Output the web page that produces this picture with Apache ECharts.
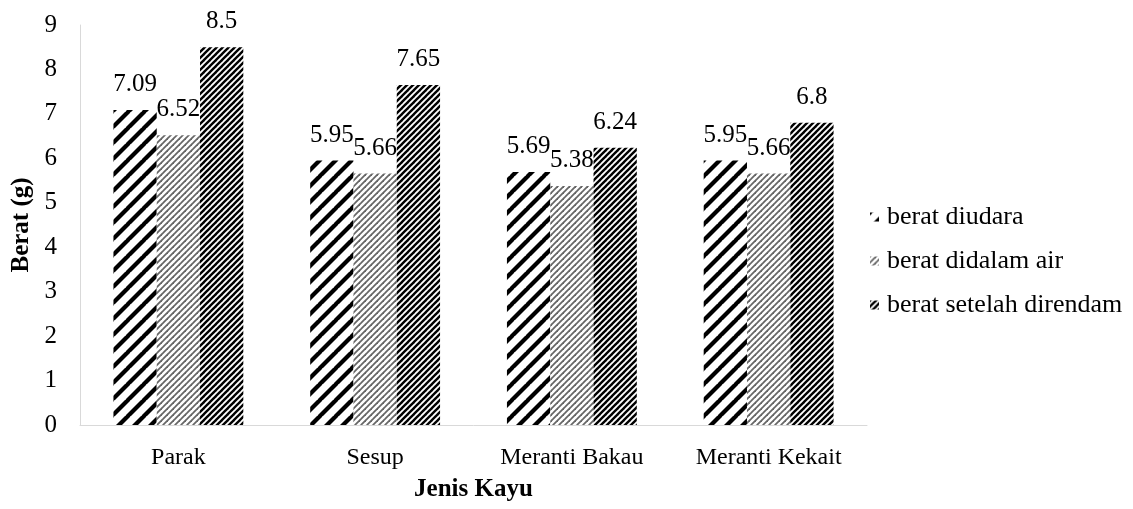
<!DOCTYPE html>
<html>
<head>
<meta charset="utf-8">
<script src="https://cdn.jsdelivr.net/npm/echarts@6/dist/echarts.min.js"></script>
<style>
  html, body { margin: 0; padding: 0; background: #fff; }
  #chart { width: 1133px; height: 509px; }
</style>
</head>
<body>
<div id="chart"></div>
<script>
const categories = ['Parak', 'Sesup', 'Meranti Bakau', 'Meranti Kekait'];
const seriesNames = ['berat diudara', 'berat didalam air', 'berat setelah direndam'];
const beratDiudara = [7.09, 5.95, 5.69, 5.95];
const beratDidalamAir = [6.52, 5.66, 5.38, 5.66];
const beratSetelahDirendam = [8.5, 7.65, 6.24, 6.8];
const yTicks = [0, 1, 2, 3, 4, 5, 6, 7, 8, 9];

const FONT = "'Liberation Serif', 'Times New Roman', serif";
const FS = 25;

// Diagonal "/" stripe tile: period = horizontal repeat, width = stroke width
function stripe(period, width, color) {
  const c = document.createElement('canvas');
  c.width = period; c.height = period;
  const g = c.getContext('2d');
  g.fillStyle = '#fff';
  g.fillRect(0, 0, period, period);
  g.strokeStyle = color;
  g.lineWidth = width;
  for (let k = -1; k <= 1; k++) {
    g.beginPath();
    g.moveTo(k * period - 1, period + 1);
    g.lineTo(k * period + period + 1, -1);
    g.stroke();
  }
  return { image: c, repeat: 'repeat' };
}

const patterns = [
  stripe(16, 4.2, '#000'),
  stripe(6, 1.8, '#666'),
  stripe(6, 2.4, '#000')
];

const values = [beratDiudara, beratDidalamAir, beratSetelahDirendam];

const chart = echarts.init(document.getElementById('chart'), null, { renderer: 'canvas' });
chart.setOption({
  animation: false,
  backgroundColor: '#fff',
  textStyle: { fontFamily: FONT },
  grid: { left: 80, right: 266, top: 25, bottom: 84, containLabel: false, outerBoundsMode: 'none' },
  legend: {
    orient: 'vertical',
    left: 865,
    top: 199,
    itemWidth: 9,
    itemHeight: 9,
    itemGap: 18,
    icon: 'rect',
    textStyle: { fontFamily: FONT, fontSize: 26, color: '#000', padding: [0, 0, 0, 3] },
    data: seriesNames
  },
  xAxis: {
    type: 'category',
    data: categories,
    name: 'Jenis Kayu',
    nameLocation: 'middle',
    nameGap: 52,
    nameTextStyle: { fontFamily: FONT, fontSize: FS, fontWeight: 'bold', color: '#000' },
    axisLine: { show: true, lineStyle: { color: '#d9d9d9', width: 1 } },
    axisTick: { show: false },
    axisLabel: { interval: 0, fontFamily: FONT, fontSize: 24, color: '#000', margin: 21 },
    splitLine: { show: false }
  },
  yAxis: {
    type: 'value',
    min: yTicks[0],
    max: yTicks[yTicks.length - 1],
    interval: 1,
    name: 'Berat (g)',
    nameLocation: 'middle',
    nameGap: 38,
    nameRotate: 90,
    nameTextStyle: { fontFamily: FONT, fontSize: FS, fontWeight: 'bold', color: '#000' },
    axisLine: { show: true, lineStyle: { color: '#d9d9d9', width: 1 } },
    axisTick: { show: false },
    axisLabel: { fontFamily: FONT, fontSize: FS, color: '#000', margin: 23 },
    splitLine: { show: false }
  },
  series: seriesNames.map((name, i) => ({
    name: name,
    type: 'bar',
    data: values[i],
    barGap: '0%',
    barCategoryGap: '34%',
    itemStyle: { color: patterns[i] },
    label: {
      show: true,
      position: 'top',
      distance: 13,
      fontFamily: FONT,
      fontSize: FS,
      color: '#000'
    }
  }))
});
</script>
</body>
</html>
